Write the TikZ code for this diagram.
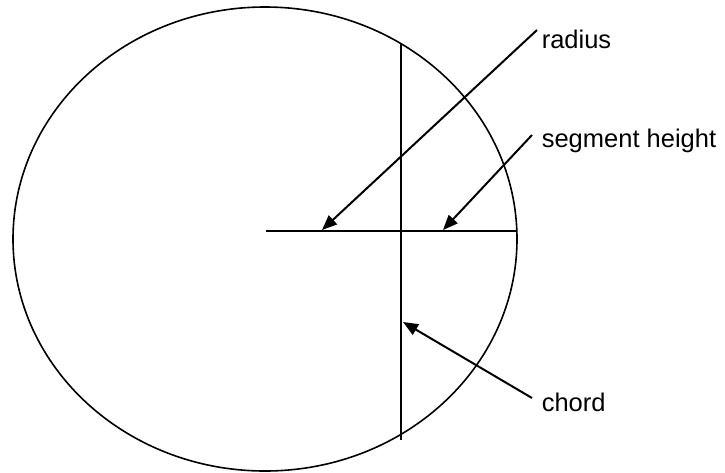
\documentclass[tikz,border=0pt]{standalone}
\usepackage{fontspec}
\setmainfont{Liberation Sans}
\usetikzlibrary{arrows.meta}

\begin{document}
\begin{tikzpicture}[
    x=1pt, y=-1pt,
    >={Triangle[length=15pt,width=12pt]},
    line width=1.6pt,
    every node/.style={anchor=base west, inner sep=0pt, font=\fontsize{25.5}{30}\selectfont},
    pointer/.style={->, line width=2pt}
]
    \useasboundingbox (0,0) rectangle (725,472);

    % circle with the two lines
    \draw (265,239) ellipse [x radius=252, y radius=232];
    \coordinate (centre) at (266,231);
    \coordinate (rim) at (517,231);
    \coordinate (chordtop) at (401,44);
    \coordinate (chordbot) at (401,440);
    \draw (centre) -- (rim);
    \draw (chordtop) -- (chordbot);

    % labels
    \node (radius) at (541,48) {radius};
    \node (segment) at (541,147) {segment height};
    \node (chord) at (541,411) {chord};

    % pointers
    \coordinate (radtail) at (537,30);
    \coordinate (radtip) at (322,230);
    \coordinate (segtail) at (532,135);
    \coordinate (segtip) at (443,230);
    \coordinate (chordtail) at (532,398);
    \coordinate (chordtip) at (403,322);
    \draw[pointer] (radtail) -- (radtip);
    \draw[pointer] (segtail) -- (segtip);
    \draw[pointer] (chordtail) -- (chordtip);
\end{tikzpicture}
\end{document}
